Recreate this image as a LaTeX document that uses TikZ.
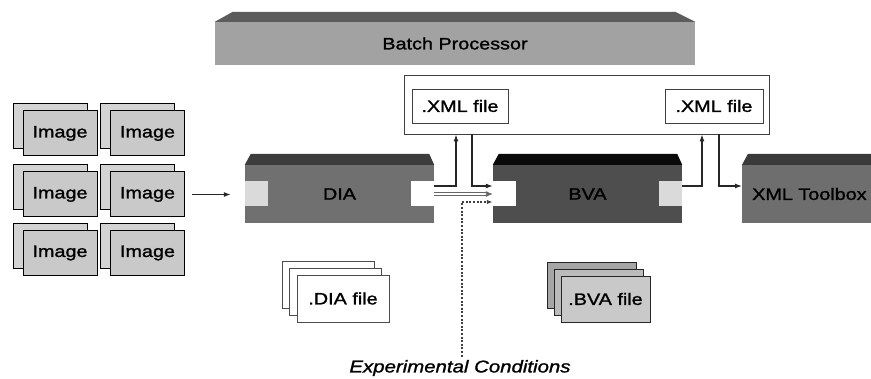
\documentclass[tikz,border=0pt]{standalone}
\usepackage{fontspec}
\setmainfont[FakeStretch=1.2,FakeBold=1.3]{Liberation Sans}
\usetikzlibrary{arrows.meta,positioning,calc}
\definecolor{bartop}{HTML}{5C5C5C}
\definecolor{barbody}{HTML}{A2A2A2}
\definecolor{diatop}{HTML}{3C3C3C}
\definecolor{diabody}{HTML}{707070}
\definecolor{bvatop}{HTML}{0A0A0A}
\definecolor{bvabody}{HTML}{4E4E4E}
\definecolor{tooltop}{HTML}{3A3A3A}
\definecolor{toolbody}{HTML}{6E6E6E}
\definecolor{portgray}{HTML}{DADADA}
\definecolor{imggray}{HTML}{C9C9C9}
\definecolor{imgback}{HTML}{D3D3D3}

\begin{document}
\begin{tikzpicture}[x=1pt, y=1pt,
    txt/.style={font=\fontsize{16.5}{18}\selectfont},
    imgbox/.style={txt, draw=black, line width=1pt, fill=imggray, minimum width=74pt, minimum height=45pt, inner sep=0pt},
    imgshadow/.style={imgbox, fill=imgback},
    block/.style={txt, minimum width=189pt, minimum height=58pt, inner sep=0pt},
    port/.style={minimum width=23pt, minimum height=25pt, inner sep=0pt},
    filebox/.style={txt, draw=black!75, line width=0.8pt, fill=white, minimum height=34pt, inner sep=0pt},
    docbox/.style={txt, draw=black!70, line width=0.8pt, fill=white, minimum width=92pt, minimum height=47pt, inner sep=0pt},
    arr/.style={-{Latex[length=7pt,width=5pt]}, line width=1.2pt, draw=black!85},
    dblarr/.style={-{Latex[length=7pt,width=6pt]}, draw=black!60, line width=0.9pt, double=white, double distance=1.6pt},
    dotarr/.style={-{Latex[length=6pt,width=4.5pt]}, draw=black!75, line width=1.2pt, dash pattern=on 2pt off 1.6pt}
]
\clip (0,0) rectangle (871,378);
\fill[white] (0,0) rectangle (871,378);

% batch processor
\node[block, fill=barbody, minimum width=480pt, minimum height=43pt] (batch) at (455,334.5) {Batch Processor};
\fill[bartop] (batch.north west) -- ++(18,10) -- ([xshift=-20pt,yshift=10pt]batch.north east) -- (batch.north east) -- cycle;

% xml outputs
\node[draw=black!75, line width=0.8pt, fill=white, minimum width=365pt, minimum height=59pt] (xmlbox) at (586.5,273.5) {};
\node[filebox, minimum width=96pt] (xmlA) at (460,272) {.XML file};
\node[filebox, minimum width=98pt] (xmlB) at (714,272) {.XML file};

% input images
\foreach \col/\x in {1/60,2/147.5}
  \foreach \row/\y in {1/244.5,2/183.5,3/125} {
    \node[imgshadow] (imgs\col\row) at (\x-10,\y+7) {};
    \node[imgbox] (img\col\row) at (\x,\y) {Image};
  }

% processing blocks
\node[block, fill=diabody] (dia) at (339.5,184) {DIA};
\fill[diatop] (dia.north west) -- ++(6,11) -- ([xshift=-5pt,yshift=11pt]dia.north east) -- (dia.north east) -- cycle;
\node[port, fill=portgray, anchor=west] (diaL) at (dia.west) {};
\node[port, fill=white, anchor=east] (diaR) at (dia.east) {};

\node[block, fill=bvabody] (bva) at (587.5,184) {BVA};
\fill[bvatop] (bva.north west) -- ++(6,11) -- ([xshift=-5pt,yshift=11pt]bva.north east) -- (bva.north east) -- cycle;
\node[port, fill=white, anchor=west] (bvaL) at (bva.west) {};
\node[port, fill=portgray, anchor=east] (bvaR) at (bva.east) {};

\node[block, fill=toolbody, anchor=west, inner xsep=10pt, text width=169pt] (tool) at (742,184) {XML Toolbox};
\fill[tooltop] (tool.north west) -- ++(6,11) -- ([xshift=-5pt,yshift=11pt]tool.north east) -- (tool.north east) -- cycle;

% stored files
\foreach \i/\dx in {2/-15,1/-7.5}
  \node[docbox] (diadoc\i) at (343+\dx,79.5-\dx*0.93) {};
\node[docbox] (diadoc) at (343,79.5) {.DIA file};
\foreach \i/\dx/\c in {2/-14/A6A6A6,1/-7/BBBBBB} {
  \definecolor{tmp}{HTML}{\c}
  \node[docbox, draw=black!85, fill=tmp, minimum width=89pt, minimum height=46pt] (bvadoc\i) at (605.5+\dx,79-\dx) {};
}
\node[docbox, draw=black!85, fill=imggray, minimum width=89pt, minimum height=46pt] (bvadoc) at (605.5,79) {.BVA file};

\node[txt, font=\fontsize{17}{19}\selectfont\itshape] (cond) at (460,10) {Experimental Conditions};

% connectors
\draw[arr, shorten <=7pt, shorten >=14pt] (img22.east) -- (img22.east -| dia.west);
\draw[arr] ([yshift=8pt]diaR.east) -| ($(xmlA.south |- xmlbox.south)+(-4,0)$);
\draw[arr] ($(xmlA.south |- xmlbox.south)+(12,0)$) |- ([yshift=8pt]bvaL.west);
\draw[dblarr] (diaR.east) -- (bvaL.west);
\draw[dotarr] ($(cond.north)+(2,0)$) |- ([yshift=-8pt]bvaL.west);
\draw[arr] ([yshift=8pt]bvaR.east) -| ($(xmlB.south |- xmlbox.south)+(-12,0)$);
\draw[arr] ($(xmlB.south |- xmlbox.south)+(5,0)$) |- ([yshift=8pt]tool.west);

\end{tikzpicture}
\end{document}
